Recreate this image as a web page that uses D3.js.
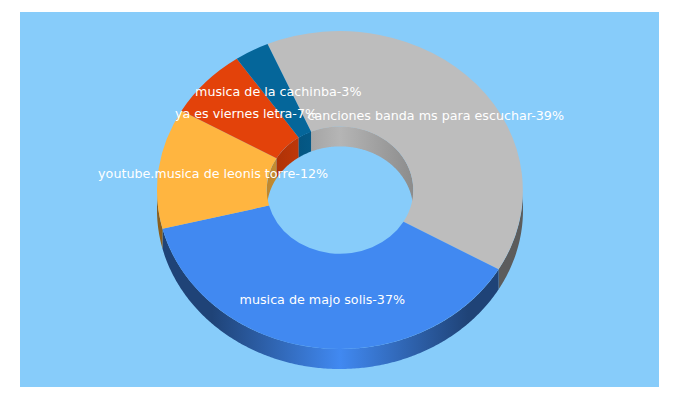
<!DOCTYPE html>
<html><head><meta charset="utf-8">
<script src="https://cdn.jsdelivr.net/npm/d3@7/dist/d3.min.js"></script>
<style>html,body{margin:0;background:#fff}svg{display:block}</style></head>
<body><svg id="c" width="680" height="400"></svg>
<script>
const categories = ["canciones banda ms para escuchar","musica de majo solis","youtube.musica de leonis torre","ya es viernes letra","musica de la cachinba"];
const shares = [39,37,12,7,3];
const topColors = ["#bdbdbd","#4189f1","#ffb540","#e3420a","#05669a"];
const edgeColors = ["#5c5c5c","#1f4377","#8a5f1e","#a02e06","#03486d"];

const W=639,H=375,X0=20,Y0=12,cx=340,cy=190,rx=183,ry=159,depth=20,hole=0.4;
const svg=d3.select("#c");
svg.append("rect").attr("x",X0).attr("y",Y0).attr("width",W).attr("height",H).attr("fill","#87ccfa");
const start=-23.3*Math.PI/180;
const pie=d3.pie().sort(null).value(d=>d).startAngle(start).endAngle(start+2*Math.PI);
const arcs=pie(shares);
const sx=d3.scaleLinear().domain([-1,1]).range([cx-rx,cx+rx]);
const sy=d3.scaleLinear().domain([-1,1]).range([cy-ry,cy+ry]);
const defs=svg.append("defs");
function grad(id,c,e){
  const g=defs.append("linearGradient").attr("id",id).attr("gradientUnits","userSpaceOnUse")
    .attr("x1",sx(-1)).attr("x2",sx(1)).attr("y1",0).attr("y2",0);
  g.append("stop").attr("offset","0").attr("stop-color",e);
  g.append("stop").attr("offset","0.15").attr("stop-color",e);
  g.append("stop").attr("offset","0.5").attr("stop-color",c);
  g.append("stop").attr("offset","0.85").attr("stop-color",e);
  g.append("stop").attr("offset","1").attr("stop-color",e);
}
function gradInner(id,c,e){
  const g=defs.append("linearGradient").attr("id",id).attr("gradientUnits","userSpaceOnUse")
    .attr("x1",sx(-hole)).attr("x2",sx(hole)).attr("y1",0).attr("y2",0);
  g.append("stop").attr("offset","0").attr("stop-color",e);
  g.append("stop").attr("offset","0.5").attr("stop-color",c);
  g.append("stop").attr("offset","1").attr("stop-color",e);
}
const line=d3.line().x(d=>d[0]).y(d=>d[1]);
function band(a,b,r){
  const n=Math.max(2,Math.ceil((b-a)/0.01));
  const ts=d3.range(n+1).map(i=>a+(b-a)*i/n);
  const p=t=>[sx(r*Math.sin(t)),sy(-r*Math.cos(t))];
  const up=ts.map(p);
  const dn=ts.slice().reverse().map(t=>{const q=p(t);return [q[0],q[1]+depth]});
  return line(up.concat(dn))+"Z";
}
const PI=Math.PI;
const walls=svg.append("g");
arcs.forEach((d,i)=>{
  gradInner("in"+i,d3.interpolateRgb(topColors[i],"#000")(0.04),d3.interpolateRgb(topColors[i],"#000")(0.26));
  [[-PI/2,PI/2],[3*PI/2,5*PI/2]].forEach(w=>{
    const a=Math.max(d.startAngle,w[0]),b=Math.min(d.endAngle,w[1]);
    if(b>a) walls.append("path").attr("d",band(a,b,hole)).attr("fill","url(#in"+i+")");
  });
});
arcs.forEach((d,i)=>{
  grad("out"+i,topColors[i],edgeColors[i]);
  const a=Math.max(d.startAngle,PI/2),b=Math.min(d.endAngle,3*PI/2);
  if(b>a) walls.append("path").attr("d",band(a,b,1)).attr("fill","url(#out"+i+")");
});
const arcGen=d3.arc().innerRadius(hole).outerRadius(1);
const faces=svg.append("g").attr("transform",`translate(${cx},${cy}) scale(${rx},${ry})`);
faces.selectAll("path").data(arcs).join("path").attr("d",arcGen).attr("fill",(d,i)=>topColors[i]);
svg.append("g").selectAll("text").data(arcs).join("text")
  .attr("x",d=>sx(0.7*Math.sin((d.startAngle+d.endAngle)/2)))
  .attr("y",d=>sy(-0.7*Math.cos((d.startAngle+d.endAngle)/2))+3.5)
  .attr("text-anchor","middle").attr("fill","#fff")
  .attr("font-family","'DejaVu Sans',sans-serif").attr("font-size",12.7)
  .text((d,i)=>categories[i]+"-"+shares[i]+"%");
</script></body></html>
